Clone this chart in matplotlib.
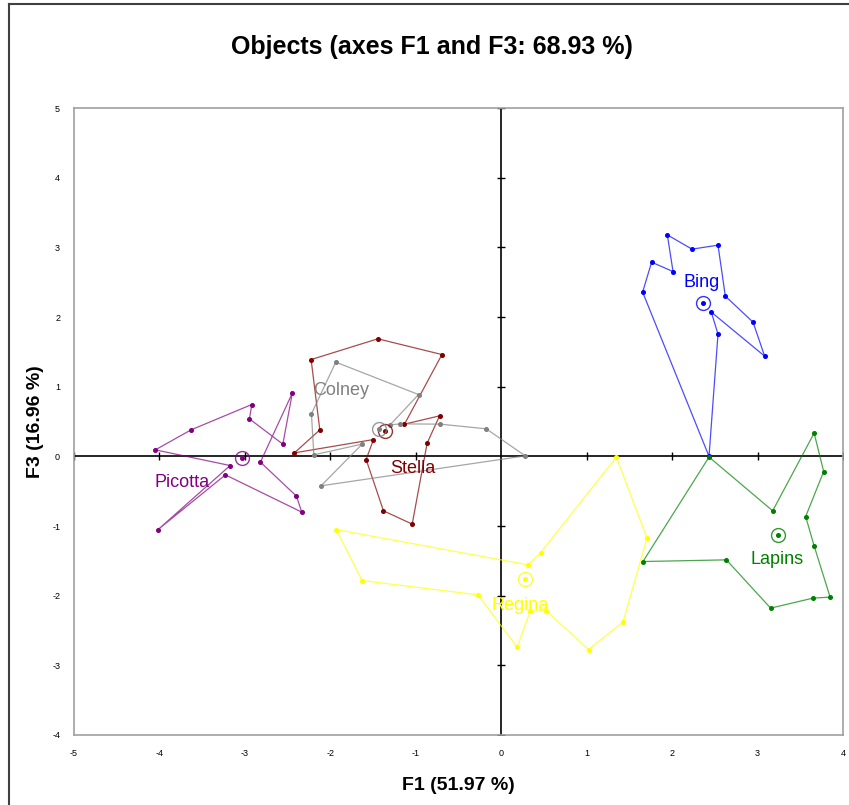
import matplotlib
matplotlib.use("Agg")
import matplotlib.pyplot as plt
from matplotlib.lines import Line2D

plt.rcParams['font.family'] = ['Liberation Sans', 'DejaVu Sans']
plt.rcParams['axes.unicode_minus'] = False

# Observations per cultivar (F1, F3), joined in order to form the outline
bing_x = [1.944, 2.233, 2.537, 2.623, 2.947, 3.083, 2.459, 2.537, 2.432, 1.655, 1.760, 2.011]
bing_y = [3.179, 2.974, 3.031, 2.299, 1.926, 1.438, 2.070, 1.754, 0.000, 2.357, 2.787, 2.652]

lapins_x = [3.662, 3.774, 3.563, 3.662, 3.849, 3.650, 3.153, 2.635, 1.659, 2.432, 3.177]
lapins_y = [0.333, -0.218, -0.864, -1.285, -2.021, -2.035, -2.179, -1.486, -1.510, -0.010, -0.782]

regina_x = [1.347, 1.706, 1.425, 1.022, 0.527, 0.340, 0.187, -0.273, -1.628, -1.932, 0.313, 0.460]
regina_y = [-0.011, -1.174, -2.380, -2.773, -2.218, -2.218, -2.739, -1.988, -1.783, -1.051, -1.557, -1.385]

stella_x = [-2.225, -1.444, -0.694, -1.132, -0.722, -0.867, -1.042, -1.378, -1.581, -1.495, -2.420, -2.123]
stella_y = [1.389, 1.687, 1.461, 0.462, 0.581, 0.189, -0.973, -0.782, -0.046, 0.241, 0.050, 0.380]

colney_x = [-1.936, -0.968, -1.300, -1.179, -0.714, -0.176, 0.281, -2.108, -1.628, -2.193, -2.221]
colney_y = [1.352, 0.887, 0.452, 0.466, 0.462, 0.395, 0.007, -0.423, 0.175, 0.022, 0.610]

picotta_x = [-4.048, -3.630, -2.919, -2.947, -2.556, -2.444, -2.818, -2.397, -2.334, -3.228, -4.020, -3.173]
picotta_y = [0.093, 0.380, 0.744, 0.538, 0.175, 0.911, -0.083, -0.571, -0.801, -0.266, -1.055, -0.132]

# Cultivar centroids and label anchors
names = ["Bing", "Lapins", "Regina", "Stella", "Colney", "Picotta"]
centre_x = [2.362, 3.240, 0.281, -1.366, -1.425, -3.036]
centre_y = [2.199, -1.127, -1.758, 0.370, 0.395, -0.022]
label_x = [2.35, 3.23, 0.22, -1.03, -1.87, -3.73]
label_y = [2.50, -1.48, -2.14, -0.18, 0.94, -0.37]

colors = ["#0000ff", "#008000", "#ffff00", "#800000", "#808080", "#800080"]
xs = [bing_x, lapins_x, regina_x, stella_x, colney_x, picotta_x]
ys = [bing_y, lapins_y, regina_y, stella_y, colney_y, picotta_y]

fig = plt.figure(figsize=(8.49, 8.05), dpi=100)
ax = fig.add_axes([74 / 849, 1 - 735 / 805, 769 / 849, 627 / 805])
ax.set_xlim(-5, 4)
ax.set_ylim(-4, 5)

# central axes with cross ticks
ax.axhline(0, color="black", lw=1.2, zorder=1)
ax.axvline(0, color="black", lw=1.2, zorder=1)
ticks_x = [t for t in range(-5, 5) if t != 0]
ticks_y = [t for t in range(-4, 6) if t != 0]
ax.plot(ticks_x, [0] * len(ticks_x), ls="none", marker="|", ms=6, mew=1.0, color="black", zorder=1)
ax.plot([0] * len(ticks_y), ticks_y, ls="none", marker="_", ms=6, mew=1.0, color="black", zorder=1)

for x, y, c in zip(xs, ys, colors):
    ax.plot(x + [x[0]], y + [y[0]], color=c, lw=0.9, alpha=0.7, zorder=2)
    ax.plot(x, y, ls="none", marker="o", ms=2.6, color=c, zorder=3)

for cx, cy, c in zip(centre_x, centre_y, colors):
    ax.plot(cx, cy, marker="o", ms=10, mfc="none", mec=c, mew=1.0, alpha=0.8, zorder=4)
    ax.plot(cx, cy, marker="o", ms=2.6, color=c, zorder=4)

for n, lx, ly, c in zip(names, label_x, label_y, colors):
    ax.text(lx, ly, n, color=c, fontsize=13, ha="center", va="center", zorder=5)

ax.set_xticks(range(-5, 5))
ax.set_yticks(range(-4, 6))
ax.tick_params(length=0, labelsize=6.5, colors="black", pad=10)
for s in ax.spines.values():
    s.set_color("#a0a0a0")
    s.set_linewidth(1.2)

ax.set_xlabel("F1 (51.97 %)", fontsize=14, fontweight="bold", labelpad=14)
ax.set_ylabel("F3 (16.96 %)", fontsize=14, fontweight="bold", labelpad=6)
fig.text(432 / 849, 1 - 47 / 805, "Objects (axes F1 and F3: 68.93 %)", fontsize=18,
         fontweight="bold", ha="center", va="center")

# chart area border (left and top edges)
fig.add_artist(Line2D([9 / 849, 9 / 849], [0, 1 - 4 / 805], color="#404040", lw=1.5))
fig.add_artist(Line2D([9 / 849, 1], [1 - 4 / 805, 1 - 4 / 805], color="#404040", lw=1.5))

fig.savefig("out.png", dpi=100)
